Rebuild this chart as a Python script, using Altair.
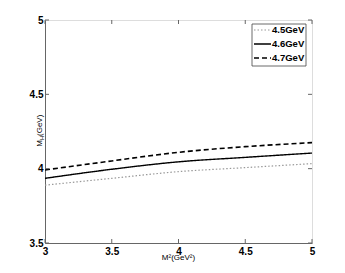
import altair as alt
import pandas as pd

m2 = [3.0, 3.5, 4.0, 4.5, 5.0]
s45 = [3.889, 3.935, 3.980, 4.007, 4.034]
s46 = [3.935, 3.996, 4.046, 4.076, 4.105]
s47 = [3.991, 4.052, 4.110, 4.148, 4.175]
series = ["4.5GeV", "4.6GeV", "4.7GeV"]
xticks = [3, 3.5, 4, 4.5, 5]
yticks = [3.5, 4, 4.5, 5]

rows = []
for name, vals in zip(series, [s45, s46, s47]):
    for x, y in zip(m2, vals):
        rows.append({"x": x, "y": y, "s": name})
df = pd.DataFrame(rows)

FONT = "Liberation Sans"
xs = alt.Scale(domain=[3, 5], nice=False)
ys = alt.Scale(domain=[3.5, 5], nice=False)
cscale = alt.Scale(domain=series, range=["#999999", "black", "black"])
dscale = alt.Scale(domain=series, range=[[1.5, 2], [1, 0], [5, 3]])
wscale = alt.Scale(domain=series, range=[1.2, 1.6, 1.6])

base = alt.Chart(df).mark_line(clip=True, interpolate="monotone").encode(
    x=alt.X("x:Q", scale=xs, axis=alt.Axis(values=xticks, title=None, tickSize=0, labelPadding=3,
                                           format="~g",
                                           labelFont=FONT, labelFontWeight="bold", labelFontSize=10,
                                           labelColor="black", domainColor="#666", grid=False,
                                           labelFlush=False)),
    y=alt.Y("y:Q", scale=ys, axis=alt.Axis(values=yticks, title=None, tickSize=0, labelPadding=2,
                                           format="~g",
                                           labelFont=FONT, labelFontWeight="bold", labelFontSize=10,
                                           labelColor="black", domainColor="#666", grid=False,
                                           labelFlush=False)),
    color=alt.Color("s:N", scale=cscale, legend=None),
    strokeDash=alt.StrokeDash("s:N", scale=dscale, legend=None),
    strokeWidth=alt.StrokeWidth("s:N", scale=wscale, legend=None),
)

# inward ticks
xt = pd.DataFrame({"t": xticks})
yt = pd.DataFrame({"t": yticks})
tick_b = alt.Chart(xt).mark_rule(color="#666").encode(x=alt.X("t:Q", scale=xs), y=alt.value(223), y2=alt.value(219))
tick_t = alt.Chart(xt).mark_rule(color="#666").encode(x=alt.X("t:Q", scale=xs), y=alt.value(0), y2=alt.value(4))
tick_l = alt.Chart(yt).mark_rule(color="#666").encode(y=alt.Y("t:Q", scale=ys), x=alt.value(0), x2=alt.value(4))
tick_r = alt.Chart(yt).mark_rule(color="#666").encode(y=alt.Y("t:Q", scale=ys), x=alt.value(267), x2=alt.value(263))

# legend
legbox = alt.Chart(pd.DataFrame({"a": [0]})).mark_rect(fill="white", stroke="#444", strokeWidth=0.8).encode(
    x=alt.value(207), x2=alt.value(261), y=alt.value(4), y2=alt.value(46))
leg_layers = []
for i, name in enumerate(series):
    yy = 10 + i * 14
    d = pd.DataFrame({"s": [name]})
    leg_layers.append(alt.Chart(d).mark_rule().encode(
        x=alt.value(209), x2=alt.value(226), y=alt.value(yy),
        color=alt.Color("s:N", scale=cscale, legend=None),
        strokeDash=alt.StrokeDash("s:N", scale=dscale, legend=None),
        strokeWidth=alt.StrokeWidth("s:N", scale=wscale, legend=None),
    ))
    leg_layers.append(alt.Chart(d).mark_text(align="left", baseline="middle", font=FONT, fontWeight="bold",
                                             fontSize=9.5, color="black").encode(
        x=alt.value(227), y=alt.value(yy), text="s:N"))

# axis titles
xtitle = alt.Chart(pd.DataFrame({"t": ["M²(GeV²)"]})).mark_text(
    font=FONT, fontSize=8, align="center", baseline="alphabetic", color="black").encode(
    x=alt.value(133.5), y=alt.value(240), text="t:N")
ytitle_m = alt.Chart(pd.DataFrame({"t": ["M"]})).mark_text(
    font=FONT, fontSize=8, align="right", baseline="alphabetic", angle=270, color="black").encode(
    x=alt.value(-3), y=alt.value(120), text="t:N")
ytitle_h = alt.Chart(pd.DataFrame({"t": ["H"]})).mark_text(
    font=FONT, fontSize=6, align="left", baseline="alphabetic", angle=270, color="black").encode(
    x=alt.value(-1), y=alt.value(120), text="t:N")
ytitle_g = alt.Chart(pd.DataFrame({"t": ["(GeV)"]})).mark_text(
    font=FONT, fontSize=8, align="left", baseline="alphabetic", angle=270, color="black").encode(
    x=alt.value(-3), y=alt.value(116), text="t:N")

chart = alt.layer(
    base, tick_b, tick_t, tick_l, tick_r, legbox, *leg_layers, xtitle, ytitle_m, ytitle_h, ytitle_g
).properties(
    width=267, height=223,
    autosize=alt.AutoSizeParams(type="none"),
    padding={"left": 37, "top": 12, "right": 25, "bottom": 22},
).configure_view(stroke="#666", strokeWidth=1).configure(background="white")

chart.save("out.html", embed_options={"renderer": "svg", "actions": False})
